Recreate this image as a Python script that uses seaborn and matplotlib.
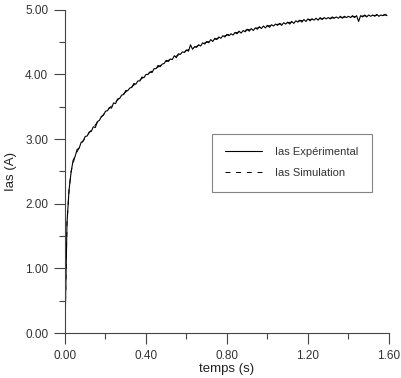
import matplotlib
matplotlib.use("Agg")
import matplotlib.pyplot as plt
import seaborn as sns
import pandas as pd
from matplotlib.ticker import MultipleLocator, FormatStrFormatter

sns.set_theme(style="ticks")
plt.rcParams['font.family'] = ['Liberation Sans', 'DejaVu Sans']

# measured current, one sample every 0.01 s
exp_t = [i / 100 for i in range(160)]
exp_ias = [
    0.00, 1.70, 2.21, 2.48, 2.67, 2.73, 2.84, 2.86, 2.95, 2.97,
    3.04, 3.05, 3.11, 3.12, 3.19, 3.18, 3.27, 3.29, 3.35, 3.37,
    3.43, 3.44, 3.49, 3.48, 3.56, 3.55, 3.62, 3.63, 3.68, 3.69,
    3.75, 3.75, 3.79, 3.80, 3.86, 3.85, 3.90, 3.90, 3.96, 3.95,
    4.00, 4.00, 4.04, 4.03, 4.09, 4.09, 4.14, 4.12, 4.16, 4.17,
    4.22, 4.20, 4.24, 4.23, 4.29, 4.26, 4.32, 4.31, 4.35, 4.34,
    4.38, 4.36, 4.46, 4.39, 4.43, 4.42, 4.46, 4.44, 4.49, 4.47,
    4.51, 4.49, 4.54, 4.51, 4.56, 4.54, 4.58, 4.56, 4.60, 4.58,
    4.62, 4.60, 4.63, 4.61, 4.65, 4.63, 4.67, 4.64, 4.68, 4.66,
    4.70, 4.67, 4.71, 4.68, 4.72, 4.70, 4.74, 4.71, 4.75, 4.72,
    4.76, 4.73, 4.77, 4.75, 4.78, 4.76, 4.79, 4.76, 4.80, 4.78,
    4.81, 4.78, 4.82, 4.79, 4.83, 4.81, 4.84, 4.81, 4.85, 4.82,
    4.86, 4.83, 4.86, 4.84, 4.87, 4.84, 4.88, 4.85, 4.88, 4.86,
    4.88, 4.86, 4.89, 4.87, 4.89, 4.87, 4.90, 4.87, 4.90, 4.88,
    4.90, 4.88, 4.91, 4.88, 4.91, 4.82, 4.91, 4.89, 4.92, 4.89,
    4.92, 4.90, 4.92, 4.90, 4.93, 4.90, 4.92, 4.91, 4.93, 4.91,
]

# simulated current
sim_t = [0.00, 0.01, 0.02, 0.03, 0.05, 0.08, 0.10, 0.15, 0.20, 0.30, 0.40,
         0.50, 0.60, 0.70, 0.80, 0.90, 1.00, 1.10, 1.20, 1.30, 1.40, 1.50, 1.59]
sim_ias = [0.00, 1.70, 2.20, 2.50, 2.74, 2.93, 3.02, 3.22, 3.42, 3.73, 3.99,
           4.20, 4.37, 4.50, 4.61, 4.69, 4.75, 4.80, 4.85, 4.87, 4.89, 4.91, 4.92]

df_exp = pd.DataFrame({'t': exp_t, 'ias': exp_ias})
df_sim = pd.DataFrame({'t': sim_t, 'ias': sim_ias})

fig = plt.figure(figsize=(4.01, 3.78), dpi=100)
ax = fig.add_axes([0.162, 0.119, 0.808, 0.855])

sns.lineplot(data=df_exp, x='t', y='ias', color='black', lw=0.8, ax=ax,
             label='Ias Expérimental')
sns.lineplot(data=df_sim, x='t', y='ias', color='black', lw=0.7, ax=ax,
             linestyle=(0, (5, 6)), label='Ias Simulation')

ax.set_xlim(0, 1.6)
ax.set_ylim(0, 5)
ax.xaxis.set_major_locator(MultipleLocator(0.4))
ax.xaxis.set_minor_locator(MultipleLocator(0.2))
ax.yaxis.set_major_locator(MultipleLocator(1.0))
ax.yaxis.set_minor_locator(MultipleLocator(0.5))
ax.xaxis.set_major_formatter(FormatStrFormatter('%.2f'))
ax.yaxis.set_major_formatter(FormatStrFormatter('%.2f'))
ax.tick_params(which='major', length=8, width=0.8, color='#444444',
               labelsize=8.5, labelcolor='#333333', pad=4)
ax.tick_params(which='minor', length=4, width=0.8, color='#444444')
sns.despine(ax=ax)
for s in ['left', 'bottom']:
    ax.spines[s].set_color('#444444')
    ax.spines[s].set_linewidth(0.8)

ax.set_xlabel('temps (s)', fontsize=9.5, color='#222222', labelpad=1)
ax.set_ylabel('Ias (A)', fontsize=9.5, color='#222222', labelpad=6)

leg = ax.legend(loc='upper left', bbox_to_anchor=(0.454, 0.616), borderaxespad=0,
                fontsize=8, frameon=True, fancybox=False, handlelength=3.3,
                handletextpad=1.2, borderpad=1.2, labelspacing=1.0)
leg.get_frame().set_edgecolor('#666666')
leg.get_frame().set_linewidth(0.8)
for t in leg.get_texts():
    t.set_color('#333333')

fig.savefig('out.png', dpi=100)
